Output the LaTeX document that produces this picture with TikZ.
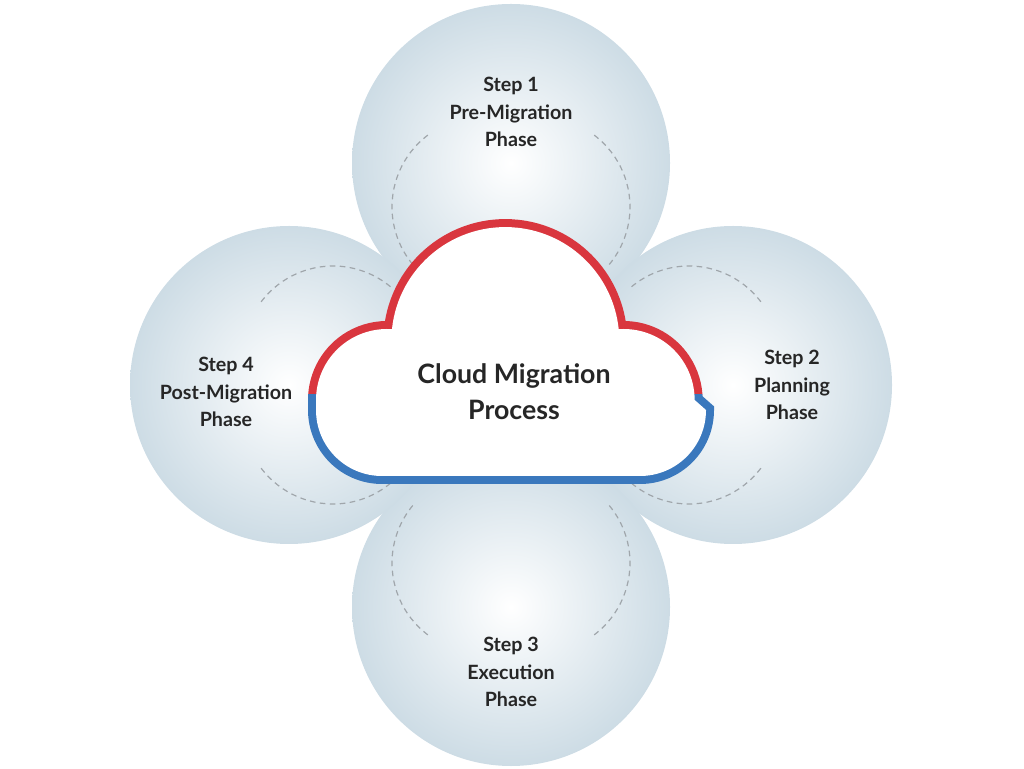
\documentclass[tikz,border=0pt]{standalone}
\usepackage{fontspec}
\setmainfont{Lato}
\usetikzlibrary{positioning}

\definecolor{ballEdge}{RGB}{205,220,229}
\definecolor{cloudRed}{RGB}{217,54,62}
\definecolor{cloudBlue}{RGB}{58,120,189}
\definecolor{dashGrey}{RGB}{160,166,171}

\tikzset{
  ball/.style={circle, minimum size=318*0.25mm, inner sep=0pt,
    inner color=white, outer color=ballEdge},
  steptext/.style={align=center, font=\bfseries\fontsize{14}{19.5}\selectfont,
    text=black!85},
  guide/.style={dashGrey, line width=0.3mm, dash pattern=on 1.4mm off 1.1mm},
}

\begin{document}
\begin{tikzpicture}[x=0.25mm, y=0.25mm]
\useasboundingbox (0,0) rectangle (1024,768);
% the four steps
\node[ball] (ballTop) at (511,605) {};
\node[ball] (ballRight) at (733,383) {};
\node[ball] (ballBottom) at (511,161) {};
\node[ball] (ballLeft) at (289,383) {};
% dashed guides, same shape turned round the middle
\foreach \turn in {0,90,180,270}{
  \begin{scope}[rotate around={\turn:(511,383)}]
    \draw[guide] (482,561) ++(127:90) arc (127:221:90);
    \draw[guide] (540,561) ++(53:90) arc (53:-41:90);
  \end{scope}
}
\node[steptext] (step1) at (511,656) {Step 1\\Pre-Migration\\Phase};
\node[steptext] (step2) at (792,383) {Step 2\\Planning\\Phase};
\node[steptext] (step3) at (511,96) {Step 3\\Execution\\Phase};
\node[steptext] (step4) at (226,376) {Step 4\\Post-Migration\\Phase};
% cloud
\def\cloudpath{(316,368) arc (180:86:71) arc (174:6:114) arc (94:0:71)
  -- (706,358) arc (0:-90:66) -- (382,292) arc (270:180:66) -- cycle}
\begin{scope}
  \clip (0,373) rectangle (1024,768);
  \draw[cloudRed, line width=4mm] \cloudpath;
\end{scope}
\begin{scope}
  \clip (0,0) rectangle (1024,373);
  \draw[cloudBlue, line width=4mm] \cloudpath;
\end{scope}
\fill[white] \cloudpath;
\node[align=center, font=\bfseries\fontsize{19}{25.5}\selectfont, text=black!85]
  (cloud) at (514,376) {Cloud Migration\\Process};
\end{tikzpicture}
\end{document}
